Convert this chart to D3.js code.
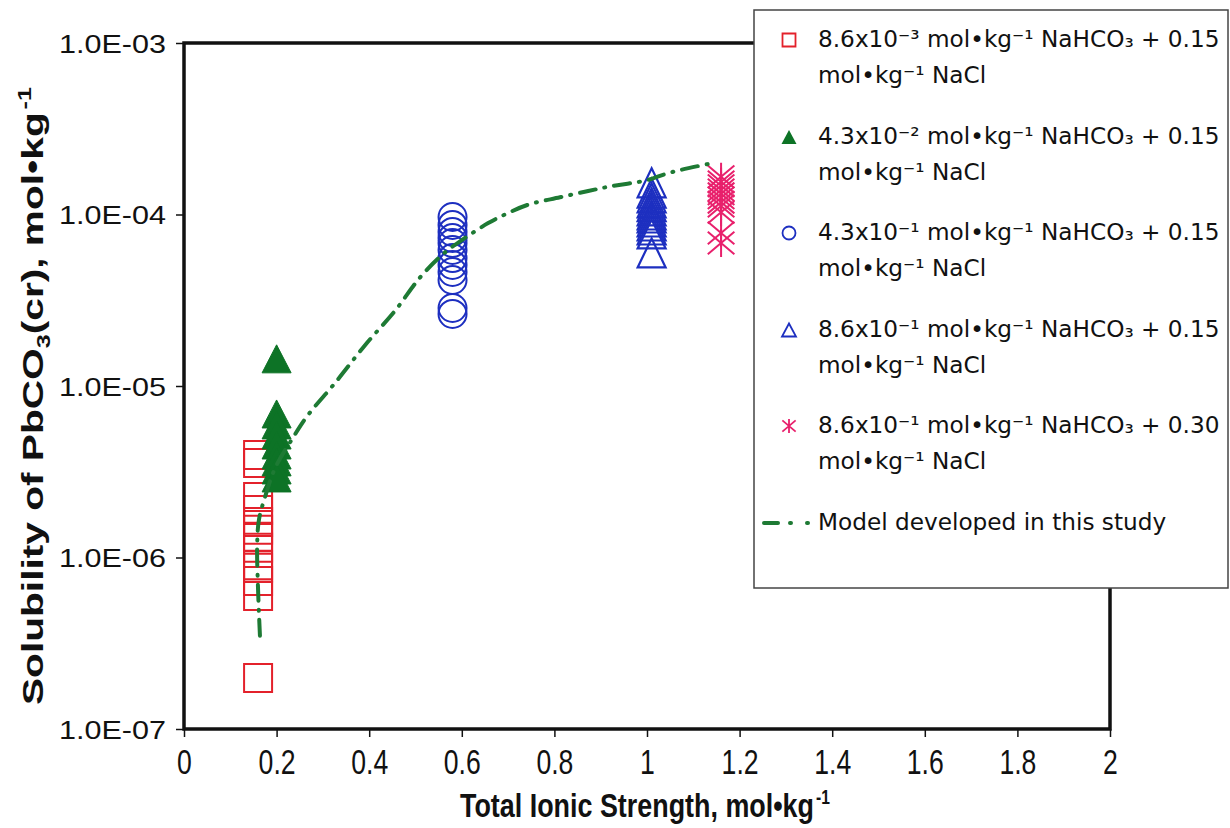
<!DOCTYPE html>
<html>
<head>
<meta charset="utf-8">
<script src="https://cdn.jsdelivr.net/npm/d3@7"></script>
<style>
  body { margin: 0; background: #fff; }
  svg { display: block; }
</style>
</head>
<body>
<svg id="chart" width="1230" height="828"></svg>
<script>
// Ionic strength (x) and solubility (y, mol/kg)
const squareI = 0.16;
const squareS = [3.96e-6, 3.56e-6, 2.25e-6, 1.89e-6, 1.61e-6, 1.45e-6, 1.32e-6,
                 1.14e-6, 9.0e-7, 8.7e-7, 7.3e-7, 5.97e-7, 1.98e-7];

const greenTriI = 0.2;
const greenTriS = [1.44e-5, 6.87e-6, 5.93e-6, 5.18e-6, 4.53e-6, 3.96e-6, 3.61e-6, 3.24e-6, 2.91e-6];

const circleI = 0.58;
const circleS = [9.67e-5, 8.69e-5, 7.91e-5, 7.30e-5, 6.82e-5, 6.21e-5, 5.57e-5,
                 5.08e-5, 4.62e-5, 4.15e-5, 2.85e-5, 2.63e-5];

const blueTriI = 1.01;
const blueTriS = [1.53e-4, 1.33e-4, 1.25e-4, 1.17e-4, 1.11e-4, 1.05e-4, 9.93e-5,
                  9.54e-5, 9.04e-5, 8.57e-5, 8.12e-5, 7.70e-5, 5.97e-5];

const starI = 1.16;
const starS = [1.66e-4, 1.55e-4, 1.47e-4, 1.39e-4, 1.32e-4, 1.25e-4, 1.18e-4,
               1.12e-4, 1.03e-4, 7.80e-5, 6.82e-5];

// model curve
const modelI = [0.164, 0.160, 0.158, 0.162, 0.175, 0.197, 0.235, 0.268, 0.326, 0.391,
                0.456, 0.510, 0.560, 0.607, 0.657, 0.700, 0.743, 0.812, 0.873, 0.916,
                1.002, 1.039, 1.073, 1.132];
const modelS = [3.5e-7, 6.45e-7, 1.18e-6, 1.67e-6, 2.25e-6, 3.33e-6, 4.98e-6, 6.78e-6,
                1.04e-5, 1.73e-5, 2.75e-5, 4.3e-5, 5.9e-5, 7.3e-5, 8.91e-5, 1.02e-4,
                1.14e-4, 1.26e-4, 1.37e-4, 1.45e-4, 1.59e-4, 1.72e-4, 1.82e-4, 1.97e-4];

const xTicks = [0, 0.2, 0.4, 0.6, 0.8, 1, 1.2, 1.4, 1.6, 1.8, 2];
const yTicks = [1e-7, 1e-6, 1e-5, 1e-4, 1e-3];

const legendLines = [
  ['8.6x10⁻³ mol•kg⁻¹ NaHCO₃ + 0.15', 'mol•kg⁻¹ NaCl'],
  ['4.3x10⁻² mol•kg⁻¹ NaHCO₃ + 0.15', 'mol•kg⁻¹ NaCl'],
  ['4.3x10⁻¹ mol•kg⁻¹ NaHCO₃ + 0.15', 'mol•kg⁻¹ NaCl'],
  ['8.6x10⁻¹ mol•kg⁻¹ NaHCO₃ + 0.15', 'mol•kg⁻¹ NaCl'],
  ['8.6x10⁻¹ mol•kg⁻¹ NaHCO₃ + 0.30', 'mol•kg⁻¹ NaCl'],
  ['Model developed in this study']
];

const RED = '#e3212b', GREEN = '#0d7326', BLUE = '#1d2fc0', PINK = '#e8206c', LINEGREEN = '#1e7a34';

const svg = d3.select('#chart');
const plotLeft = 184, plotRight = 1110, plotTop = 43, plotBottom = 729;

const x = d3.scaleLinear().domain([0, 2]).range([plotLeft, plotRight]);
const y = d3.scaleLog().domain([1e-7, 1e-3]).range([plotBottom, plotTop]);

// Marker shapes (path strings centred on 0,0)
function squarePath(s) { const h = s / 2; return `M${-h},${-h}H${h}V${h}H${-h}Z`; }
function triPath(w, h) { return `M0,${-h / 2}L${w / 2},${h / 2}L${-w / 2},${h / 2}Z`; }
function starPath(s) {
  const h = s / 2, dx = h * 0.95, dy = h * 0.8;
  return `M0,${-h}V${h}M${-dx},${-dy}L${dx},${dy}M${dx},${-dy}L${-dx},${dy}`;
}

// squeeze a text horizontally (the original uses a condensed face)
function condense(sel, k) {
  sel.each(function() {
    const w = this.getComputedTextLength();
    d3.select(this).attr('textLength', w * k).attr('lengthAdjust', 'spacingAndGlyphs');
  });
}

// axes
const yAxis = d3.axisLeft(y)
  .tickValues(yTicks)
  .tickSize(8)
  .tickPadding(10)
  .tickFormat(d => '1.0E-' + String(-Math.round(Math.log10(d))).padStart(2, '0'));

const xAxis = d3.axisBottom(x)
  .tickValues(xTicks)
  .tickSize(8)
  .tickPadding(12)
  .tickFormat(d => String(+d.toFixed(1)));

const gy = svg.append('g').attr('transform', `translate(${plotLeft},0)`).call(yAxis);
gy.select('.domain').remove();
gy.selectAll('.tick line').attr('stroke', '#111').attr('stroke-width', 1.5);
gy.selectAll('.tick text')
  .attr('fill', '#111')
  .style('font-family', '"Liberation Sans", Arial, sans-serif')
  .style('font-size', '26px')
  .attr('dy', '0.36em')
  .attr('textLength', 107)
  .attr('lengthAdjust', 'spacingAndGlyphs');

const gx = svg.append('g').attr('transform', `translate(0,${plotBottom})`).call(xAxis);
gx.select('.domain').remove();
gx.selectAll('.tick line').attr('stroke', '#111').attr('stroke-width', 1.5);
gx.selectAll('.tick text')
  .attr('fill', '#111')
  .style('font-family', '"Liberation Sans", Arial, sans-serif')
  .style('font-size', '35px')
  .call(condense, 0.76);

// plot frame
svg.append('rect')
  .attr('x', plotLeft).attr('y', plotTop)
  .attr('width', plotRight - plotLeft).attr('height', plotBottom - plotTop)
  .attr('fill', 'none').attr('stroke', '#111').attr('stroke-width', 3.5);

// axis titles (superscripts as separate texts so they sit just after the squeezed title)
const titleFont = '"Liberation Sans", Arial, sans-serif';
const xTitleLen = 354;
svg.append('text')
  .attr('x', 460).attr('y', 817)
  .attr('textLength', xTitleLen)
  .attr('lengthAdjust', 'spacingAndGlyphs')
  .style('font-family', titleFont)
  .style('font-weight', 'bold')
  .style('font-size', '33px')
  .attr('fill', '#111')
  .text('Total Ionic Strength, mol•kg');
svg.append('text')
  .attr('x', 460 + xTitleLen + 2).attr('y', 804)
  .style('font-family', titleFont)
  .style('font-weight', 'bold')
  .style('font-size', '20px')
  .attr('fill', '#111')
  .text('-1')
  .call(condense, 0.78);

const yTitle = svg.append('text')
  .attr('transform', 'translate(43,705) rotate(-90)')
  .attr('textLength', 618)
  .attr('lengthAdjust', 'spacingAndGlyphs')
  .style('font-family', titleFont)
  .style('font-weight', 'bold')
  .style('font-size', '29px')
  .attr('fill', '#111');
yTitle.append('tspan').text('Solubility of PbCO');
yTitle.append('tspan').attr('dy', 7).style('font-size', '18px').text('3');
yTitle.append('tspan').attr('dy', -7).text('(cr), mol•kg');
yTitle.append('tspan').attr('dx', 2).attr('dy', -12).style('font-size', '18px').text('-1');

// data
const plot = svg.append('g');

plot.selectAll('path.sq').data(squareS).join('path')
  .attr('class', 'sq')
  .attr('d', squarePath(28))
  .attr('transform', d => `translate(${x(squareI)},${y(d)})`)
  .attr('fill', 'none').attr('stroke', RED).attr('stroke-width', 2);

plot.selectAll('path.gt').data(greenTriS).join('path')
  .attr('class', 'gt')
  .attr('d', triPath(29, 28))
  .attr('transform', d => `translate(${x(greenTriI)},${y(d)})`)
  .attr('fill', GREEN).attr('stroke', GREEN).attr('stroke-width', 1);

plot.selectAll('circle.ci').data(circleS).join('circle')
  .attr('class', 'ci')
  .attr('cx', x(circleI)).attr('cy', d => y(d)).attr('r', 14)
  .attr('fill', 'none').attr('stroke', BLUE).attr('stroke-width', 2);

plot.selectAll('path.bt').data(blueTriS).join('path')
  .attr('class', 'bt')
  .attr('d', triPath(28, 29))
  .attr('transform', d => `translate(${x(blueTriI)},${y(d)})`)
  .attr('fill', 'none').attr('stroke', BLUE).attr('stroke-width', 2.2);

plot.selectAll('path.st').data(starS).join('path')
  .attr('class', 'st')
  .attr('d', starPath(28))
  .attr('transform', d => `translate(${x(starI)},${y(d)})`)
  .attr('fill', 'none').attr('stroke', PINK).attr('stroke-width', 2);

// model curve
plot.append('path')
  .datum(d3.zip(modelI, modelS))
  .attr('d', d3.line().x(d => x(d[0])).y(d => y(d[1])).curve(d3.curveCatmullRom))
  .attr('fill', 'none')
  .attr('stroke', LINEGREEN)
  .attr('stroke-width', 4)
  .attr('stroke-linecap', 'round')
  .attr('stroke-dasharray', '16,9,1,9');

// legend
const lg = svg.append('g');
lg.append('rect')
  .attr('x', 754).attr('y', 10).attr('width', 474).attr('height', 578)
  .attr('fill', '#fff').attr('stroke', '#444').attr('stroke-width', 1.5);

const legX = 789, textX = 818, rowY = [40, 137, 233, 330, 426, 523];
const lm = lg.append('g');
lm.append('path').attr('d', squarePath(13)).attr('transform', `translate(${legX},${rowY[0]})`)
  .attr('fill', 'none').attr('stroke', RED).attr('stroke-width', 1.8);
lm.append('path').attr('d', triPath(15, 14)).attr('transform', `translate(${legX},${rowY[1]})`)
  .attr('fill', GREEN);
lm.append('circle').attr('cx', legX).attr('cy', rowY[2]).attr('r', 6.5)
  .attr('fill', 'none').attr('stroke', BLUE).attr('stroke-width', 1.8);
lm.append('path').attr('d', triPath(14, 13)).attr('transform', `translate(${legX},${rowY[3]})`)
  .attr('fill', 'none').attr('stroke', BLUE).attr('stroke-width', 1.8);
lm.append('path').attr('d', starPath(14)).attr('transform', `translate(${legX},${rowY[4]})`)
  .attr('fill', 'none').attr('stroke', PINK).attr('stroke-width', 1.8);
lm.append('line').attr('x1', 764).attr('x2', 813).attr('y1', rowY[5]).attr('y2', rowY[5])
  .attr('stroke', LINEGREEN).attr('stroke-width', 4).attr('stroke-linecap', 'round')
  .attr('stroke-dasharray', '14,12,1,16,1,40');

legendLines.forEach((lines, i) => {
  lines.forEach((s, j) => {
    lg.append('text')
      .attr('x', textX).attr('y', rowY[i] + 7 + j * 36)
      .style('font-family', '"DejaVu Sans", sans-serif')
      .style('font-size', '23.2px')
      .attr('fill', '#111')
      .text(s);
  });
});
</script>
</body>
</html>
